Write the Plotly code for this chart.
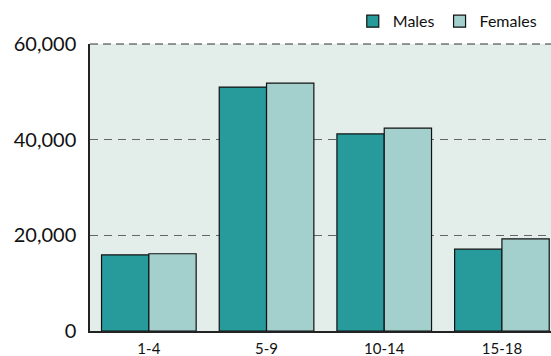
import plotly.graph_objects as go

age_groups = ["1-4", "5-9", "10-14", "15-18"]
males = [15900, 51000, 41200, 17100]
females = [16150, 51800, 42400, 19250]
y_ticks = [0, 20000, 40000, 60000]
y_tick_labels = ["0", "20,000", "40,000", "60,000"]

MALE_COLOR = "#279b9b"
FEMALE_COLOR = "#a3cfcd"
FONT = "Lato"

fig = go.Figure()
fig.add_trace(go.Bar(
    x=age_groups, y=males, name="Males",
    marker=dict(color=MALE_COLOR, line=dict(color="#111111", width=1.2)),
))
fig.add_trace(go.Bar(
    x=age_groups, y=females, name="Females",
    marker=dict(color=FEMALE_COLOR, line=dict(color="#111111", width=1.2)),
))

# dashed frame line along the top of the plot area
fig.add_shape(type="line", xref="paper", yref="paper", x0=0, x1=1, y0=1, y1=1,
              line=dict(color="#333333", width=1.2, dash="8px,5px"))

fig.update_layout(
    width=551, height=356,
    margin=dict(l=90, r=0, t=44, b=25),
    paper_bgcolor="white",
    plot_bgcolor="#e3edea",
    barmode="group",
    bargap=0.196,
    bargroupgap=0,
    font=dict(family=FONT, color="#111111"),
    showlegend=True,
    legend=dict(
        orientation="h", x=0.57, xanchor="left", y=1.02, yanchor="bottom",
        font=dict(size=16, family=FONT),
        itemwidth=30, tracegroupgap=0,
        bgcolor="rgba(0,0,0,0)",
    ),
    xaxis=dict(
        range=[-0.5, 3.417],
        automargin=False,
        showline=True, linecolor="#222222", linewidth=1.5,
        ticks="", tickfont=dict(size=15, family=FONT),
        ticklabelstandoff=3,
        showgrid=False,
    ),
    yaxis=dict(
        range=[0, 60000],
        automargin=False,
        tickvals=y_ticks, ticktext=y_tick_labels,
        tickfont=dict(size=20, family=FONT),
        showline=True, linecolor="#222222", linewidth=1.5,
        showgrid=True, gridcolor="#666666", gridwidth=1.2,
        griddash="8px,6px",
        zeroline=False,
        ticks="", ticklabelstandoff=8,
    ),
)

fig.write_html("out.html")
